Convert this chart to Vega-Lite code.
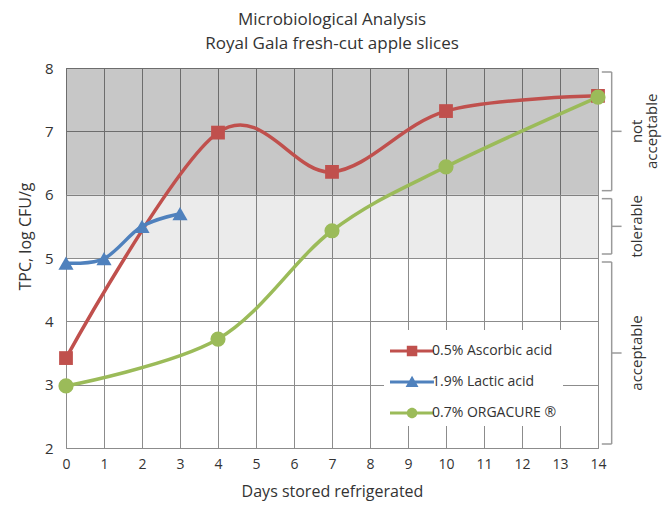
{
  "$schema": "https://vega.github.io/schema/vega-lite/v6.json",
  "width": 532,
  "height": 380,
  "autosize": {"type": "none"},
  "padding": {"left": 66, "top": 68, "right": 72, "bottom": 61},
  "config": {
    "font": "Open Sans",
    "view": {"stroke": "#8c8c8c", "strokeWidth": 1},
    "axis": {
      "grid": true, "gridColor": "#8c8c8c", "gridWidth": 1,
      "ticks": false, "domain": false, "labelOverlap": false, "labelFlush": false,
      "labelColor": "#333333", "titleColor": "#333333", "titleFontWeight": "normal"
    },
    "axisX": {
      "labelFontSize": 14, "labelPadding": 9,
      "titleFontSize": 16, "titlePadding": 12
    }
  },
  "title": {
    "text": ["Microbiological Analysis", "Royal Gala fresh-cut apple slices"],
    "fontSize": 17,
    "fontWeight": "normal",
    "color": "#333333",
    "anchor": "middle",
    "lineHeight": 24,
    "offset": 8
  },
  "datasets": {
    "series": [
      {"day": 0, "tpc": 3.42, "series": "0.5% Ascorbic acid"},
      {"day": 4, "tpc": 6.98, "series": "0.5% Ascorbic acid"},
      {"day": 7, "tpc": 6.36, "series": "0.5% Ascorbic acid"},
      {"day": 10, "tpc": 7.32, "series": "0.5% Ascorbic acid"},
      {"day": 14, "tpc": 7.56, "series": "0.5% Ascorbic acid"},
      {"day": 0, "tpc": 4.92, "series": "1.9% Lactic acid"},
      {"day": 1, "tpc": 4.99, "series": "1.9% Lactic acid"},
      {"day": 2, "tpc": 5.5, "series": "1.9% Lactic acid"},
      {"day": 3, "tpc": 5.7, "series": "1.9% Lactic acid"},
      {"day": 0, "tpc": 2.98, "series": "0.7% ORGACURE ®"},
      {"day": 4, "tpc": 3.72, "series": "0.7% ORGACURE ®"},
      {"day": 7, "tpc": 5.43, "series": "0.7% ORGACURE ®"},
      {"day": 10, "tpc": 6.44, "series": "0.7% ORGACURE ®"},
      {"day": 14, "tpc": 7.54, "series": "0.7% ORGACURE ®"}
    ],
    "bands": [
      {"zone": "not acceptable", "label": "not\nacceptable", "lo": 6, "hi": 8, "mid": 7},
      {"zone": "tolerable", "label": "tolerable", "lo": 5, "hi": 6, "mid": 5.5},
      {"zone": "acceptable", "label": "acceptable", "lo": 2, "hi": 5, "mid": 3.5}
    ]
  },
  "layer": [
    {
      "data": {"name": "bands"},
      "transform": [{"filter": "datum.zone === 'not acceptable'"}],
      "mark": {"type": "rect", "fill": "black", "fillOpacity": 0.22},
      "encoding": {
        "x": {
          "datum": 0, "type": "quantitative",
          "scale": {"domain": [0, 14], "nice": false, "zero": false},
          "axis": {"title": "Days stored refrigerated", "values": [0,1,2,3,4,5,6,7,8,9,10,11,12,13,14], "format": "d"}
        },
        "x2": {"datum": 14},
        "y": {
          "field": "lo", "type": "quantitative",
          "scale": {"domain": [2, 8], "nice": false, "zero": false},
          "axis": {
            "title": "TPC,  log CFU/g",
            "values": [2,2.5,3,3.5,4,4.5,5,5.5,6,6.5,7,7.5,8],
            "labelExpr": "datum.value % 1 === 0 ? format(datum.value, 'd') : ''",
            "labelFontSize": 15, "labelPadding": 13,
            "titleFontSize": 16, "titleX": -33, "titleY": 168, "titleAngle": -90
          }
        },
        "y2": {"field": "hi"}
      }
    },
    {
      "data": {"name": "bands"},
      "transform": [{"filter": "datum.zone === 'tolerable'"}],
      "mark": {"type": "rect", "fill": "black", "fillOpacity": 0.08},
      "encoding": {
        "x": {"datum": 0, "type": "quantitative", "axis": {"title": "Days stored refrigerated", "values": [0,1,2,3,4,5,6,7,8,9,10,11,12,13,14], "format": "d"}},
        "x2": {"datum": 14},
        "y": {"field": "lo", "type": "quantitative"},
        "y2": {"field": "hi"}
      }
    },
    {
      "data": {"name": "series"},
      "mark": {"type": "line", "interpolate": "cardinal", "strokeWidth": 3.5},
      "encoding": {
        "x": {"field": "day", "type": "quantitative", "axis": {"title": "Days stored refrigerated", "values": [0,1,2,3,4,5,6,7,8,9,10,11,12,13,14], "format": "d"}},
        "y": {"field": "tpc", "type": "quantitative"},
        "color": {
          "field": "series", "type": "nominal",
          "scale": {
            "domain": ["0.5% Ascorbic acid", "1.9% Lactic acid", "0.7% ORGACURE ®"],
            "range": ["#C0504D", "#4F81BD", "#9BBB59"]
          },
          "legend": {
            "title": null,
            "orient": "none",
            "legendX": 318,
            "legendY": 262,
            "padding": 6,
            "fillColor": "white",
            "symbolSize": 900,
            "labelFontSize": 14,
            "labelColor": "#333333",
            "labelOffset": 12,
            "rowPadding": 9,
            "labelLimit": 300,
            "encode": {
              "symbols": {
                "update": {
                  "shape": {"signal": "datum.value === '0.5% Ascorbic acid' ? 'M-1,-0.1H1.93V0.1H-1Z M0.12,-0.35H0.82V0.35H0.12Z' : datum.value === '1.9% Lactic acid' ? 'M-1,-0.1H1.93V0.1H-1Z M0.47,-0.42L0.9,0.33H0.04Z' : 'M-1,-0.1H1.93V0.1H-1Z M0.12,0A0.35,0.35 0 1,1 0.82,0A0.35,0.35 0 1,1 0.12,0Z'"},
                  "fill": {"scale": "color", "field": "value"},
                  "fillOpacity": {"value": 1},
                  "strokeWidth": {"value": 0}
                }
              }
            }
          }
        }
      }
    },
    {
      "data": {"name": "series"},
      "transform": [{"filter": "datum.series === '0.5% Ascorbic acid'"}],
      "mark": {"type": "point", "shape": "square", "filled": true, "opacity": 1, "size": 190, "color": "#C0504D"},
      "encoding": {
        "x": {"field": "day", "type": "quantitative", "axis": {"title": "Days stored refrigerated", "values": [0,1,2,3,4,5,6,7,8,9,10,11,12,13,14], "format": "d"}},
        "y": {"field": "tpc", "type": "quantitative"}
      }
    },
    {
      "data": {"name": "series"},
      "transform": [{"filter": "datum.series === '1.9% Lactic acid'"}],
      "mark": {"type": "point", "shape": "triangle-up", "filled": true, "opacity": 1, "size": 230, "color": "#4F81BD"},
      "encoding": {
        "x": {"field": "day", "type": "quantitative", "axis": {"title": "Days stored refrigerated", "values": [0,1,2,3,4,5,6,7,8,9,10,11,12,13,14], "format": "d"}},
        "y": {"field": "tpc", "type": "quantitative"}
      }
    },
    {
      "data": {"name": "series"},
      "transform": [{"filter": "datum.series === '0.7% ORGACURE ®'"}],
      "mark": {"type": "point", "shape": "circle", "filled": true, "opacity": 1, "size": 230, "color": "#9BBB59"},
      "encoding": {
        "x": {"field": "day", "type": "quantitative", "axis": {"title": "Days stored refrigerated", "values": [0,1,2,3,4,5,6,7,8,9,10,11,12,13,14], "format": "d"}},
        "y": {"field": "tpc", "type": "quantitative"}
      }
    },
    {
      "data": {"name": "bands"},
      "mark": {"type": "rule", "color": "#9a9a9a", "strokeWidth": 1.5, "yOffset": 4, "y2Offset": -4},
      "encoding": {
        "x": {"datum": 14.36, "type": "quantitative", "axis": {"title": "Days stored refrigerated", "values": [0,1,2,3,4,5,6,7,8,9,10,11,12,13,14], "format": "d"}},
        "y": {"field": "hi", "type": "quantitative"},
        "y2": {"field": "lo"}
      }
    },
    {
      "data": {"name": "bands"},
      "mark": {"type": "rule", "color": "#9a9a9a", "strokeWidth": 1.5, "yOffset": 4},
      "encoding": {
        "x": {"datum": 14.1, "type": "quantitative", "axis": {"title": "Days stored refrigerated", "values": [0,1,2,3,4,5,6,7,8,9,10,11,12,13,14], "format": "d"}},
        "x2": {"datum": 14.36},
        "y": {"field": "hi", "type": "quantitative"}
      }
    },
    {
      "data": {"name": "bands"},
      "mark": {"type": "rule", "color": "#9a9a9a", "strokeWidth": 1.5, "yOffset": -4},
      "encoding": {
        "x": {"datum": 14.1, "type": "quantitative", "axis": {"title": "Days stored refrigerated", "values": [0,1,2,3,4,5,6,7,8,9,10,11,12,13,14], "format": "d"}},
        "x2": {"datum": 14.36},
        "y": {"field": "lo", "type": "quantitative"}
      }
    },
    {
      "data": {"name": "bands"},
      "mark": {"type": "rule", "color": "#9a9a9a", "strokeWidth": 1.5},
      "encoding": {
        "x": {"datum": 14.36, "type": "quantitative", "axis": {"title": "Days stored refrigerated", "values": [0,1,2,3,4,5,6,7,8,9,10,11,12,13,14], "format": "d"}},
        "x2": {"datum": 14.62},
        "y": {"field": "mid", "type": "quantitative"}
      }
    },
    {
      "data": {"name": "bands"},
      "mark": {"type": "text", "angle": 270, "fontSize": 15, "color": "#333333", "lineBreak": "\n", "lineHeight": 15, "align": "center", "baseline": "top"},
      "encoding": {
        "x": {"datum": 14.84, "type": "quantitative", "axis": {"title": "Days stored refrigerated", "values": [0,1,2,3,4,5,6,7,8,9,10,11,12,13,14], "format": "d"}},
        "y": {"field": "mid", "type": "quantitative"},
        "text": {"field": "label", "type": "nominal"}
      }
    }
  ]
}
